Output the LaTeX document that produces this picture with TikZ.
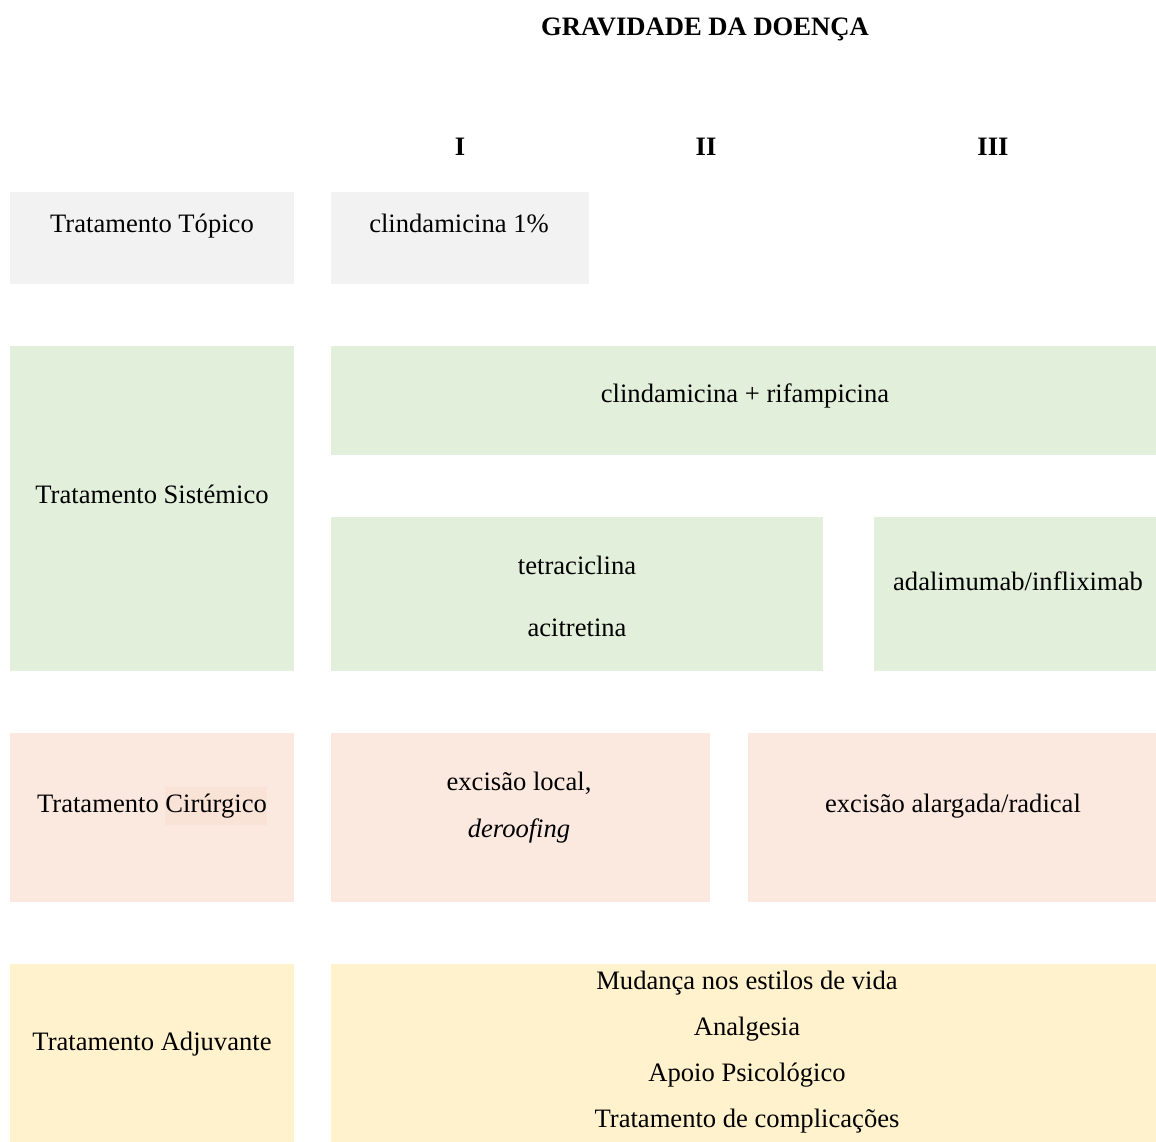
\documentclass[tikz,border=0pt]{standalone}
\usepackage{fontspec}
\setmainfont{Liberation Serif}
\definecolor{cgray}{HTML}{F2F2F2}
\definecolor{cgreen}{HTML}{E2EFDA}
\definecolor{cpeach}{HTML}{FBE9E0}
\definecolor{cpeachhl}{HTML}{F9E2D6}
\definecolor{cyellow}{HTML}{FFF2CC}
\begin{document}
\begin{tikzpicture}[x=1pt,y=-1pt,
  txt/.style={inner sep=0pt,text height=18pt,text depth=0pt,font=\fontsize{26.6}{32}\selectfont,text=black},
  hdr/.style={txt,font=\fontsize{26.6}{32}\selectfont\bfseries}]
\useasboundingbox (0,0) rectangle (1156,1142);
% boxes
\fill[cgray] (10,192) rectangle (294,284);
\fill[cgray] (331,192) rectangle (589,284);
\fill[cgreen] (10,346) rectangle (294,671);
\fill[cgreen] (331,346) rectangle (1156,455);
\fill[cgreen] (331,517) rectangle (823,671);
\fill[cgreen] (874,517) rectangle (1156,671);
\fill[cpeach] (10,733) rectangle (294,902);
\fill[cpeach] (331,733) rectangle (710,902);
\fill[cpeach] (748,733) rectangle (1156,902);
\fill[cyellow] (10,964) rectangle (294,1142);
\fill[cyellow] (331,964) rectangle (1156,1142);
% headers
\node[hdr] (title) at (705,27) {GRAVIDADE DA DOENÇA};
\node[hdr] (g1) at (460,147) {I};
\node[hdr] (g2) at (706,147) {II};
\node[hdr] (g3) at (993,147) {III};
% texts
\node[txt] (topico) at (152,224) {Tratamento Tópico};
\node[txt] (clinda) at (459,224) {clindamicina 1\%};
\node[txt] (sist) at (152,494) {Tratamento Sistémico};
\node[txt] (clrif) at (745,393) {clindamicina + rifampicina};
\node[txt] (tetra) at (577,565) {tetraciclina};
\node[txt] (acit) at (577,627) {acitretina};
\node[txt] (adal) at (1018,581) {adalimumab/infliximab};
\node[txt] (cir) at (152,803) {Tratamento \colorbox{cpeachhl}{\hspace*{-\fboxsep}\strut Cirúrgico\hspace*{-\fboxsep}}};
\node[txt] (excl) at (519,781) {excisão local,};
\node[txt] (deroof) at (519,828) {\itshape deroofing};
\node[txt] (excr) at (953,803) {excisão alargada/radical};
\node[txt] (adj) at (152,1041) {Tratamento Adjuvante};
\node[txt] (m1) at (747,980) {Mudança nos estilos de vida};
\node[txt] (m2) at (747,1026) {Analgesia};
\node[txt] (m3) at (747,1072) {Apoio Psicológico};
\node[txt] (m4) at (747,1118) {Tratamento de complicações};
\end{tikzpicture}
\end{document}
